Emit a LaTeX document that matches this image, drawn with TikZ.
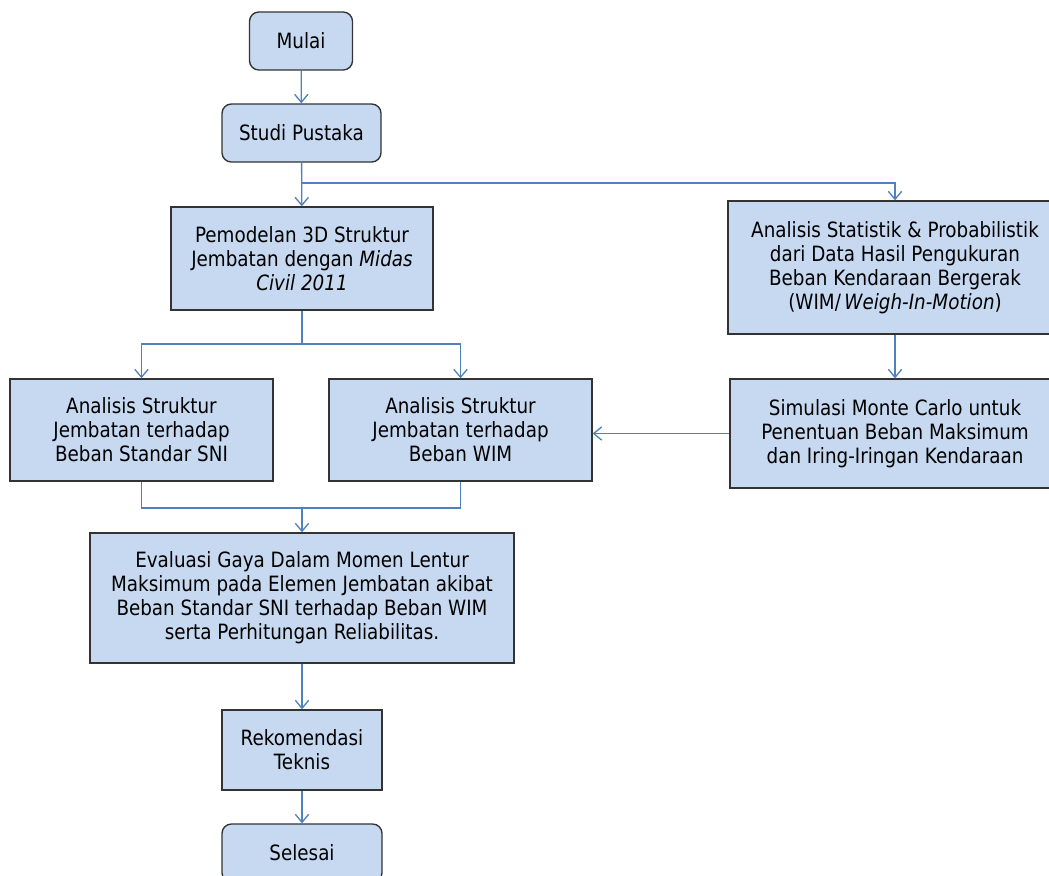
\documentclass[tikz,border=0pt]{standalone}
\usepackage{fontspec}
\setmainfont[FakeStretch=0.87]{DejaVu Sans}
\definecolor{boxfill}{HTML}{C6D9F1}
\definecolor{boxline}{HTML}{333333}
\definecolor{flowline}{HTML}{4F81BD}
\usetikzlibrary{arrows.meta}

\tikzset{
  stepbox/.style={draw=boxline, fill=boxfill, line width=1pt,
    align=center, inner sep=2pt, font=\fontsize{15.8}{18}\selectfont},
  termbox/.style={stepbox, rounded corners=7pt},
  flow/.style={draw=flowline, line width=1pt},
  arr/.style={flow, -{Straight Barb[length=6pt,width=10pt]}}
}

\begin{document}
\begin{tikzpicture}[x=0.75pt,y=-0.75pt]
    \useasboundingbox (0,0) rectangle (1049,875);

    % Left column
    \node[termbox, minimum width=77.25pt, minimum height=43.5pt]
      (mulai) at (301,41) {Mulai};
    \node[termbox, minimum width=119.25pt, minimum height=43.5pt]
      (studi) at (301.5,133) {Studi Pustaka};
    \node[stepbox, minimum width=196.5pt, minimum height=77.25pt]
      (pemodelan) at (302,258.5)
      {Pemodelan 3D Struktur\\Jembatan dengan \textit{Midas}\\\textit{Civil 2011}};

    \node[stepbox, minimum width=197.25pt, minimum height=76.5pt]
      (sni) at (141.5,430)
      {Analisis Struktur\\Jembatan terhadap\\Beban Standar SNI};
    \node[stepbox, minimum width=197.25pt, minimum height=76.5pt]
      (wim) at (460.5,430)
      {Analisis Struktur\\Jembatan terhadap\\Beban WIM};

    \node[stepbox, minimum width=318pt, minimum height=97.5pt]
      (evaluasi) at (302,598)
      {Evaluasi Gaya Dalam Momen Lentur\\Maksimum pada Elemen Jembatan akibat\\Beban Standar SNI terhadap Beban WIM\\serta Perhitungan Reliabilitas.};
    \node[stepbox, minimum width=120pt, minimum height=60pt]
      (rekomendasi) at (302,750) {Rekomendasi\\Teknis};
    \node[termbox, minimum width=120pt, minimum height=43.5pt]
      (selesai) at (302,853) {Selesai};

    % Right column
    \node[stepbox, minimum width=250.5pt, minimum height=99.75pt]
      (statistik) at (895,267.5)
      {Analisis Statistik \& Probabilistik\\dari Data Hasil Pengukuran\\Beban Kendaraan Bergerak\\(WIM/\,\textit{Weigh-In-Motion})};
    \node[stepbox, minimum width=247.5pt, minimum height=81.75pt]
      (simulasi) at (895,433.5)
      {Simulasi Monte Carlo untuk\\Penentuan Beban Maksimum\\dan Iring-Iringan Kendaraan};

    % Connectors
    \coordinate (split1) at (301,183);
    \coordinate (split2) at (302,344);
    \coordinate (merge) at (302,508);

    \draw[arr] (mulai) -- (studi);
    \draw[arr] (studi) -- (pemodelan);
    \draw[arr] (split1) -| (statistik.north);
    \draw[flow] (pemodelan) -- (split2);
    \draw[arr] (split2) -| (sni.north);
    \draw[arr] (split2) -| (wim.north);
    \draw[arr] (statistik) -- (simulasi);
    \draw[arr] (simulasi.west) -- (simulasi.west -| wim.east);
    \draw[flow] (sni.south) |- (merge);
    \draw[flow] (wim.south) |- (merge);
    \draw[arr] (merge) -- (evaluasi);
    \draw[arr] (evaluasi) -- (rekomendasi);
    \draw[arr] (rekomendasi) -- (selesai);
\end{tikzpicture}
\end{document}
